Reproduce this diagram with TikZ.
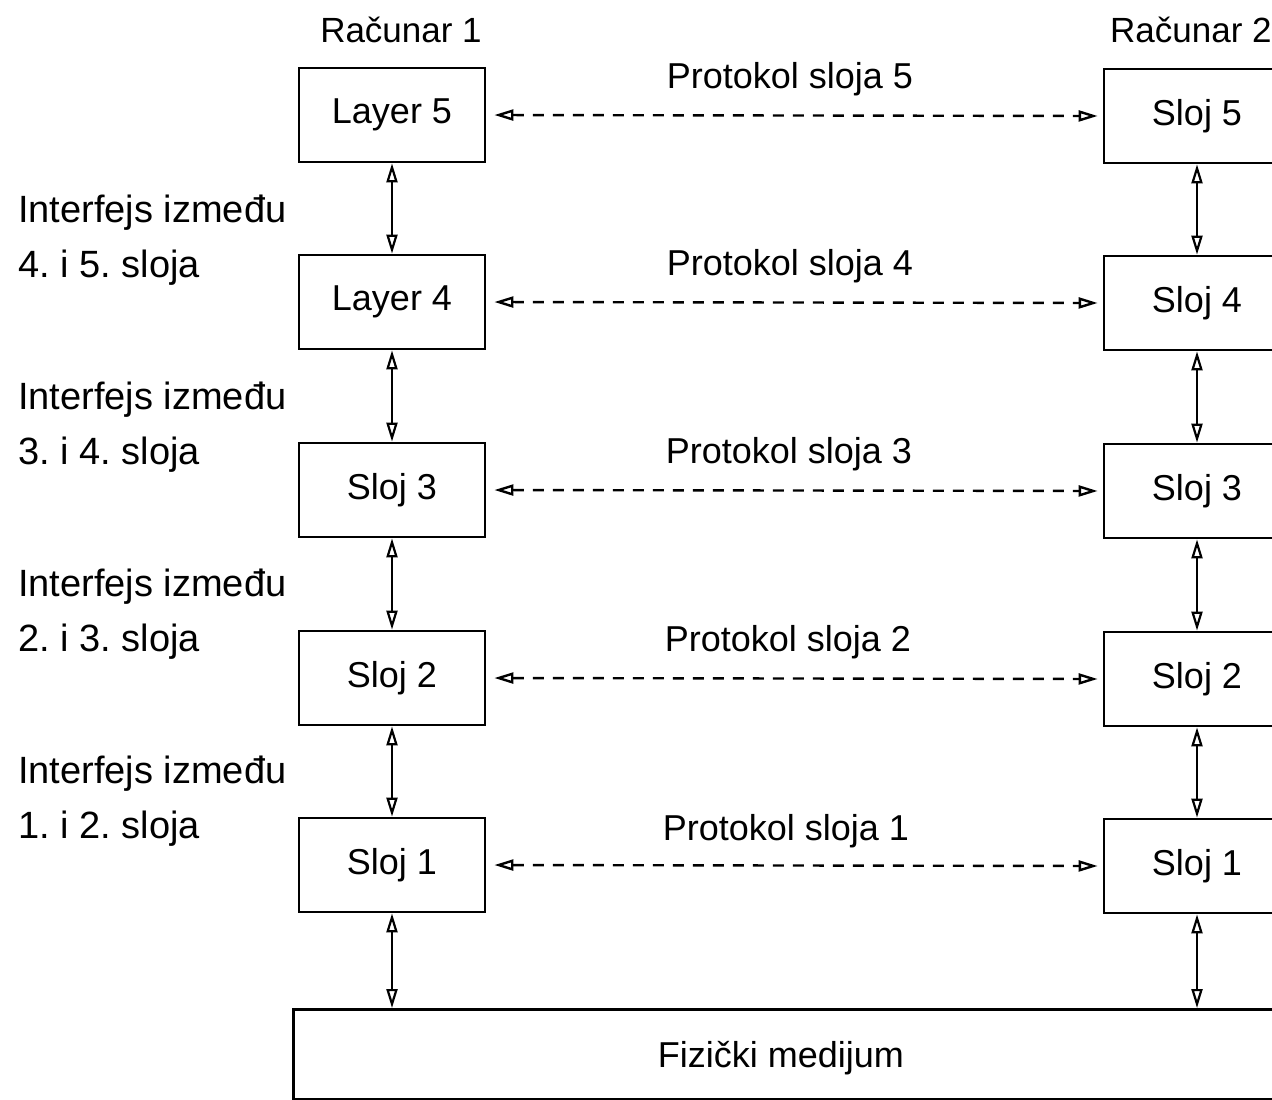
\documentclass[tikz,border=0pt]{standalone}
\usepackage{fontspec}
\setmainfont{Liberation Sans}
\usetikzlibrary{arrows.meta}
\frenchspacing
\begin{document}
\begin{tikzpicture}[x=1pt,y=-1pt,
  >={Triangle[open,length=19pt,width=11pt]},
  layerbox/.style={draw, line width=2.8pt, minimum width=186pt, minimum height=94pt, inner sep=0pt, font=\fontsize{36}{40}\selectfont},
  vlink/.style={line width=2.2pt, <->},
  plink/.style={line width=2.4pt, dash pattern=on 11pt off 9pt, <->, shorten <=8pt, shorten >=5pt},
  sidelbl/.style={anchor=north west, inner sep=0pt, align=left, font=\fontsize{38}{55}\selectfont},
  protlbl/.style={anchor=base, inner sep=0pt, font=\fontsize{36}{40}\selectfont},
  title/.style={inner sep=0pt, font=\fontsize{35}{40}\selectfont}
]
\useasboundingbox (0,0) rectangle (1272,1100);
\clip (0,0) rectangle (1272,1100);

% titles
\node[title, anchor=base] (t1) at (401,42) {Računar 1};
\node[title, anchor=base west] (t2) at (1110,42) {Računar 2};

% left column
\node[layerbox] (l5) at (392,115) {Layer 5};
\node[layerbox] (l4) at (392,302) {Layer 4};
\node[layerbox] (l3) at (392,490) {Sloj 3};
\node[layerbox] (l2) at (392,678) {Sloj 2};
\node[layerbox] (l1) at (392,865) {Sloj 1};

% right column
\node[layerbox] (r5) at (1197,116) {Sloj 5};
\node[layerbox] (r4) at (1197,303) {Sloj 4};
\node[layerbox] (r3) at (1197,491) {Sloj 3};
\node[layerbox] (r2) at (1197,679) {Sloj 2};
\node[layerbox] (r1) at (1197,866) {Sloj 1};

% physical medium
\node[draw, line width=2.8pt, anchor=north west, minimum width=1010pt, minimum height=90pt, inner sep=0pt] (phys) at (292,1008) {};
\node[protlbl] (physlbl) at (781,1067) {Fizički medijum};

% side labels
\node[sidelbl] (i45) at (18,195) {Interfejs između\\4. i 5. sloja};
\node[sidelbl] (i34) at (18,382) {Interfejs između\\3. i 4. sloja};
\node[sidelbl] (i23) at (18,569) {Interfejs između\\2. i 3. sloja};
\node[sidelbl] (i12) at (18,756) {Interfejs između\\1. i 2. sloja};

% protocol labels
\node[protlbl] (p5) at (790,88) {Protokol sloja 5};
\node[protlbl] (p4) at (790,275) {Protokol sloja 4};
\node[protlbl] (p3) at (789,463) {Protokol sloja 3};
\node[protlbl] (p2) at (788,651) {Protokol sloja 2};
\node[protlbl] (p1) at (786,840) {Protokol sloja 1};

% protocol links
\foreach \n in {5,4,3,2,1}{
  \draw[plink] (l\n.east) -- (r\n.west);
}

% vertical interface links
\draw[vlink] (l5.south) -- (l4.north);
\draw[vlink] (l4.south) -- (l3.north);
\draw[vlink] (l3.south) -- (l2.north);
\draw[vlink] (l2.south) -- (l1.north);
\draw[vlink] (l1.south) -- (l1.south |- phys.north);
\draw[vlink] (r5.south) -- (r4.north);
\draw[vlink] (r4.south) -- (r3.north);
\draw[vlink] (r3.south) -- (r2.north);
\draw[vlink] (r2.south) -- (r1.north);
\draw[vlink] (r1.south) -- (r1.south |- phys.north);
\end{tikzpicture}
\end{document}
